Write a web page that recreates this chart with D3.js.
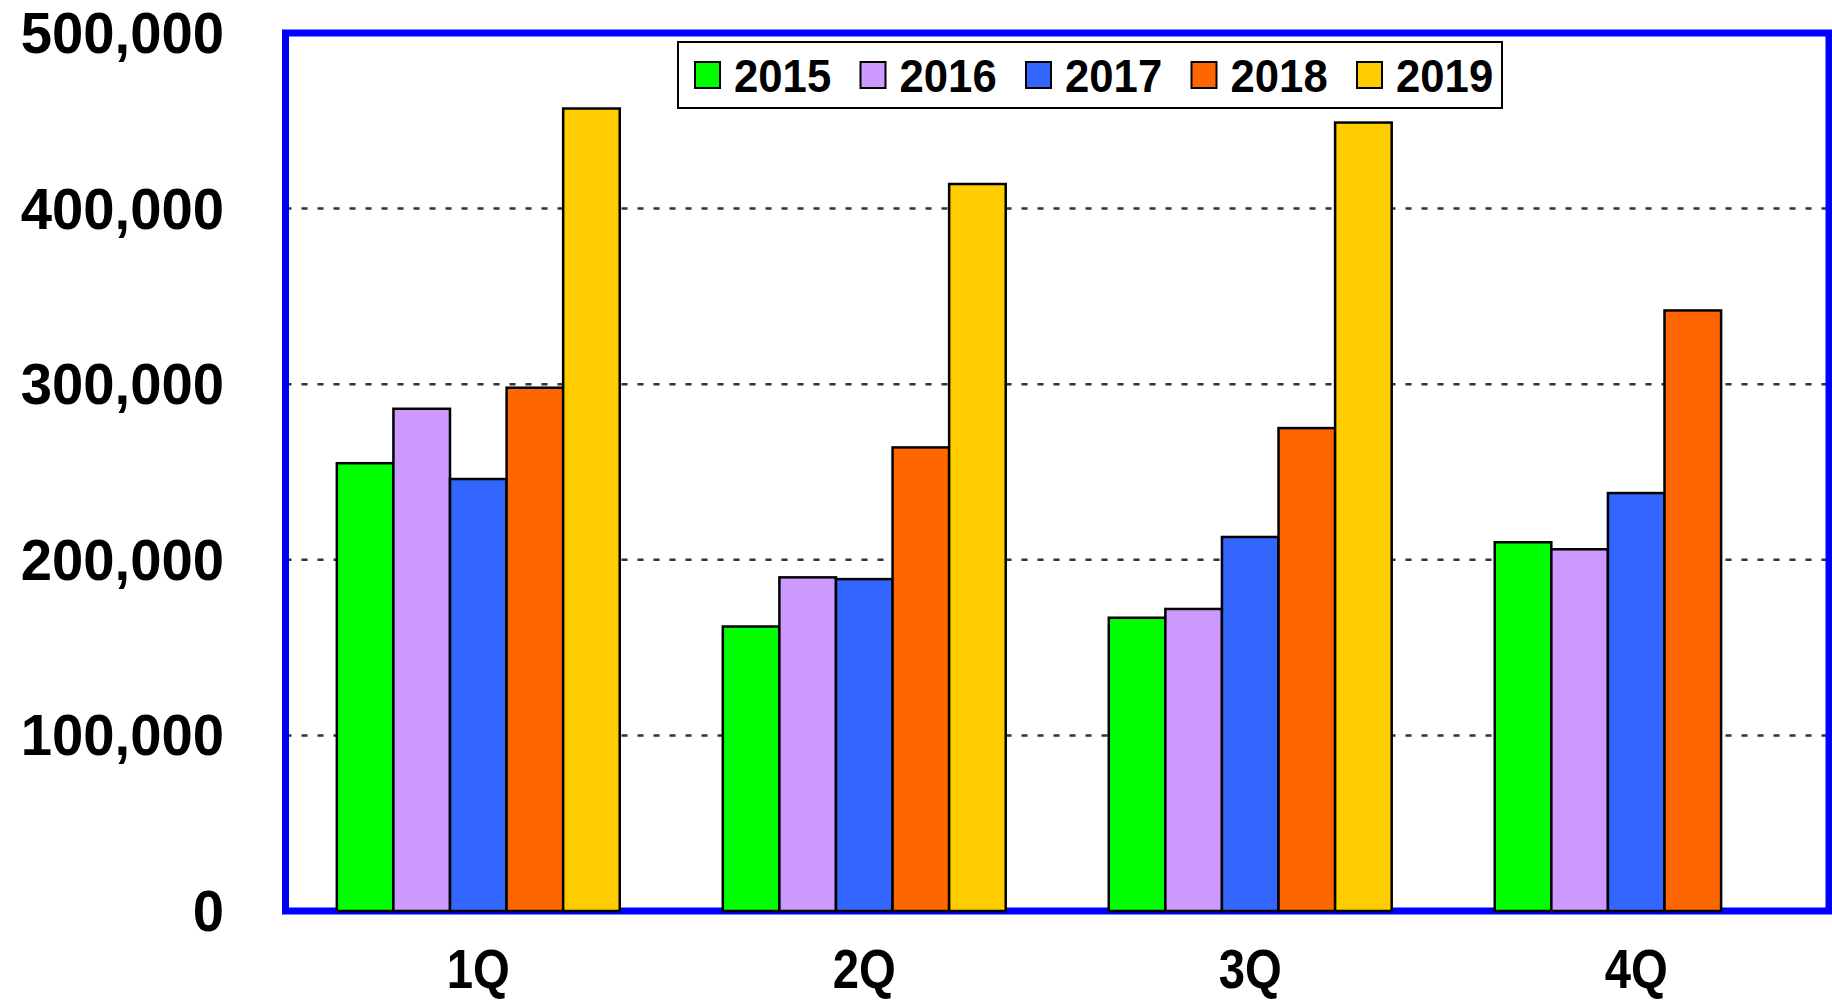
<!DOCTYPE html>
<html>
<head>
<meta charset="utf-8">
<script src="https://cdn.jsdelivr.net/npm/d3@7"></script>
<style>
  body { margin: 0; background: #fff; }
  text { font-family: "Liberation Sans", Arial, sans-serif; font-weight: bold; fill: #000; }
</style>
</head>
<body>
<script>
// chart data
const quarters = ["1Q", "2Q", "3Q", "4Q"];
const years = ["2015", "2016", "2017", "2018", "2019"];
const v2015 = [255000, 162000, 167000, 210000];
const v2016 = [286000, 190000, 172000, 206000];
const v2017 = [246000, 189000, 213000, 238000];
const v2018 = [298000, 264000, 275000, 342000];
const v2019 = [457000, 414000, 449000, null];
const yTicks = [0, 100000, 200000, 300000, 400000, 500000];

const seriesValues = [v2015, v2016, v2017, v2018, v2019];
const yearColors = ["#00FF00", "#CC99FF", "#3366FF", "#FF6600", "#FFCC00"];

const width = 1832, height = 1002;
const plotLeft = 285.5, plotRight = 1829, plotTop = 33, plotBottom = 911;

const svg = d3.select("body").append("svg")
  .attr("width", width)
  .attr("height", height);

const x = d3.scaleBand().domain(quarters).range([plotLeft, plotRight])
  .paddingInner(0.267).paddingOuter(0.133);
const xInner = d3.scaleBand().domain(years).range([0, x.bandwidth()]);
const y = d3.scaleLinear().domain([0, 500000]).range([plotBottom, plotTop]);
const color = d3.scaleOrdinal().domain(years).range(yearColors);

// dotted grid lines
svg.append("g")
  .selectAll("line")
  .data(yTicks.filter(d => d > 0 && d < 500000))
  .join("line")
  .attr("x1", plotLeft).attr("x2", plotRight)
  .attr("y1", d => y(d)).attr("y2", d => y(d))
  .attr("stroke", "#333")
  .attr("stroke-width", 2.5)
  .attr("stroke-dasharray", "6,10");

// blue frame
svg.append("rect")
  .attr("x", plotLeft).attr("y", plotTop)
  .attr("width", plotRight - plotLeft).attr("height", plotBottom - plotTop)
  .attr("fill", "none")
  .attr("stroke", "#0000FF")
  .attr("stroke-width", 7);

// bars
const rows = [];
quarters.forEach((q, qi) => {
  years.forEach((yr, yi) => {
    const v = seriesValues[yi][qi];
    if (v != null) rows.push({ q, yr, v });
  });
});

svg.append("g")
  .selectAll("rect")
  .data(rows)
  .join("rect")
  .attr("x", d => x(d.q) + xInner(d.yr))
  .attr("y", d => y(d.v))
  .attr("width", xInner.bandwidth())
  .attr("height", d => y(0) - y(d.v))
  .attr("fill", d => color(d.yr))
  .attr("stroke", "#000")
  .attr("stroke-width", 2.5);

// y labels (slightly condensed bold)
svg.append("g")
  .selectAll("text")
  .data(yTicks)
  .join("text")
  .attr("transform", d => `translate(224, ${y(d) + 20}) scale(0.97, 1)`)
  .attr("text-anchor", "end")
  .style("font-size", "58px")
  .text(d => d3.format(",")(d));

// x labels
svg.append("g")
  .selectAll("text")
  .data(quarters)
  .join("text")
  .attr("transform", d => `translate(${x(d) + x.bandwidth() / 2}, 988) scale(0.86, 1)`)
  .attr("text-anchor", "middle")
  .style("font-size", "55px")
  .text(d => d);

// legend
const legend = svg.append("g").attr("transform", "translate(678, 42)");
legend.append("rect")
  .attr("width", 824).attr("height", 66)
  .attr("fill", "#fff")
  .attr("stroke", "#000")
  .attr("stroke-width", 2);

const item = legend.selectAll("g.item")
  .data(years)
  .join("g")
  .attr("class", "item")
  .attr("transform", (d, i) => `translate(${17 + i * 165.5}, 0)`);

item.append("rect")
  .attr("x", 0).attr("y", 20)
  .attr("width", 25).attr("height", 26)
  .attr("fill", d => color(d))
  .attr("stroke", "#000")
  .attr("stroke-width", 2);

item.append("text")
  .attr("transform", "translate(39, 50) scale(0.95, 1)")
  .style("font-size", "46px")
  .text(d => d);
</script>
</body>
</html>
